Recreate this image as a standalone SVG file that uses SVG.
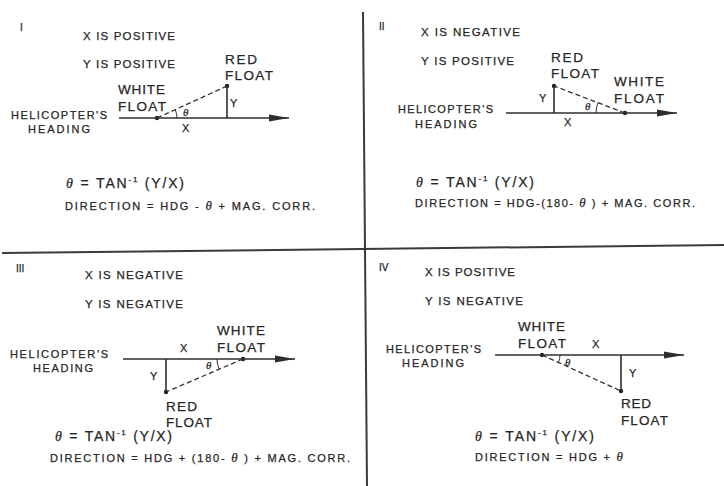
<svg xmlns="http://www.w3.org/2000/svg" width="724" height="486" viewBox="0 0 724 486">
<style>
.t{font-family:"Liberation Sans",Arial,Helvetica,sans-serif;fill:#262626;stroke:#262626;stroke-width:0.25}
.num{font-size:10px}
.lbl{font-size:11.5px}
.fl{font-size:13.5px}
.hd{font-size:11px}
.xy{font-size:11px}
.f{font-size:14px}
.d{font-size:11px}
.th{font-style:italic;font-family:"Liberation Serif","Times New Roman",serif}
.thb{font-size:13px}
.ln{stroke:#2e2e2e;stroke-width:1.6;fill:none}
.hl{stroke:#2e2e2e;stroke-width:1.6;fill:none;marker-end:url(#ah)}
.ds{stroke:#333;stroke-width:1.3;stroke-dasharray:5 3;fill:none}
.arc{stroke:#333;stroke-width:1;fill:none}
.dot{fill:#1e1e1e}
.div{stroke:#3a3a3a;stroke-width:2;fill:none}
</style>
<defs>
<marker id="ah" markerUnits="userSpaceOnUse" markerWidth="22" markerHeight="8" refX="20" refY="4" orient="auto">
<path d="M0,0.6 L20,4 L0,7.4 z" fill="#2e2e2e"/>
</marker>
</defs>
<rect width="724" height="486" fill="#ffffff"/>

<g id="dividers">
<path class="div" d="M363,12 L367,486"/>
<path class="div" d="M2,253 L724,245"/>
</g>

<g id="quadrant-I">
<text class="t num" x="20" y="31">I</text>
<text class="t lbl" x="83" y="40" textLength="92" lengthAdjust="spacing">X IS POSITIVE</text>
<text class="t lbl" x="83" y="68" textLength="92" lengthAdjust="spacing">Y IS POSITIVE</text>
<text class="t hd" x="11" y="119" textLength="96" lengthAdjust="spacing">HELICOPTER'S</text>
<text class="t hd" x="28" y="133" textLength="62" lengthAdjust="spacing">HEADING</text>
<g id="q1-white-float"><circle class="dot" cx="157" cy="118" r="2.2"/><text class="t fl" x="118" y="94" textLength="47" lengthAdjust="spacing">WHITE</text><text class="t fl" x="118" y="111" textLength="48" lengthAdjust="spacing">FLOAT</text></g>
<g id="q1-red-float"><circle class="dot" cx="227" cy="86" r="2.2"/><text class="t fl" x="225" y="64" textLength="32" lengthAdjust="spacing">RED</text><text class="t fl" x="225" y="80" textLength="48" lengthAdjust="spacing">FLOAT</text></g>
<text class="t xy" x="230" y="107">Y</text>
<text class="t xy" x="182" y="132">X</text>
<text class="t xy th" x="183" y="116">θ</text>
<text class="t f" x="66" y="188" textLength="118" lengthAdjust="spacing"><tspan class="th">θ</tspan> = TAN<tspan font-size="8" dy="-6">-1</tspan><tspan dy="6"> (Y/X)</tspan></text>
<text class="t d" x="65" y="210" textLength="250" lengthAdjust="spacing">DIRECTION = HDG - <tspan class="th thb">θ</tspan> +  MAG. CORR.</text>
</g>

<g id="quadrant-II">
<text class="t num" x="379" y="30">II</text>
<text class="t lbl" x="421" y="36" textLength="99" lengthAdjust="spacing">X IS NEGATIVE</text>
<text class="t lbl" x="421" y="65" textLength="93" lengthAdjust="spacing">Y IS POSITIVE</text>
<text class="t hd" x="398" y="113" textLength="95" lengthAdjust="spacing">HELICOPTER'S</text>
<text class="t hd" x="415" y="128" textLength="62" lengthAdjust="spacing">HEADING</text>
<g id="q2-red-float"><circle class="dot" cx="554" cy="86" r="2.2"/><text class="t fl" x="551" y="62" textLength="32" lengthAdjust="spacing">RED</text><text class="t fl" x="551" y="78" textLength="48" lengthAdjust="spacing">FLOAT</text></g>
<g id="q2-white-float"><circle class="dot" cx="625" cy="113" r="2.2"/><text class="t fl" x="614" y="86" textLength="50" lengthAdjust="spacing">WHITE</text><text class="t fl" x="614" y="103" textLength="50" lengthAdjust="spacing">FLOAT</text></g>
<text class="t xy" x="539" y="102">Y</text>
<text class="t xy" x="564" y="126">X</text>
<text class="t xy th" x="585" y="110">θ</text>
<text class="t f" x="416" y="187" textLength="118" lengthAdjust="spacing"><tspan class="th">θ</tspan> = TAN<tspan font-size="8" dy="-6">-1</tspan><tspan dy="6"> (Y/X)</tspan></text>
<text class="t d" x="415" y="207" textLength="280" lengthAdjust="spacing">DIRECTION = HDG-(180- <tspan class="th thb">θ</tspan> ) + MAG. CORR.</text>
</g>

<g id="quadrant-III">
<text class="t num" x="16" y="272">III</text>
<text class="t lbl" x="85" y="279" textLength="98" lengthAdjust="spacing">X IS NEGATIVE</text>
<text class="t lbl" x="85" y="308" textLength="98" lengthAdjust="spacing">Y IS NEGATIVE</text>
<text class="t hd" x="10" y="358" textLength="98" lengthAdjust="spacing">HELICOPTER'S</text>
<text class="t hd" x="33" y="372" textLength="60" lengthAdjust="spacing">HEADING</text>
<g id="q3-white-float"><circle class="dot" cx="243" cy="359" r="2.2"/><text class="t fl" x="217" y="335" textLength="48" lengthAdjust="spacing">WHITE</text><text class="t fl" x="217" y="352" textLength="48" lengthAdjust="spacing">FLOAT</text></g>
<g id="q3-red-float"><circle class="dot" cx="166" cy="392" r="2.2"/><text class="t fl" x="166" y="411" textLength="31" lengthAdjust="spacing">RED</text><text class="t fl" x="166" y="427" textLength="46" lengthAdjust="spacing">FLOAT</text></g>
<text class="t xy" x="180" y="352">X</text>
<text class="t xy" x="150" y="380">Y</text>
<text class="t xy th" x="206" y="369">θ</text>
<text class="t f" x="55" y="441" textLength="117" lengthAdjust="spacing"><tspan class="th">θ</tspan> = TAN<tspan font-size="8" dy="-6">-1</tspan><tspan dy="6"> (Y/X)</tspan></text>
<text class="t d" x="50" y="462" textLength="300" lengthAdjust="spacing">DIRECTION = HDG + (180- <tspan class="th thb">θ</tspan> ) + MAG. CORR.</text>
</g>

<g id="quadrant-IV">
<text class="t num" x="379" y="271">IV</text>
<text class="t lbl" x="425" y="276" textLength="90" lengthAdjust="spacing">X IS POSITIVE</text>
<text class="t lbl" x="425" y="305" textLength="98" lengthAdjust="spacing">Y IS NEGATIVE</text>
<text class="t hd" x="386" y="353" textLength="95" lengthAdjust="spacing">HELICOPTER'S</text>
<text class="t hd" x="402" y="367" textLength="62" lengthAdjust="spacing">HEADING</text>
<g id="q4-white-float"><circle class="dot" cx="542" cy="355" r="2.2"/><text class="t fl" x="518" y="331" textLength="47" lengthAdjust="spacing">WHITE</text><text class="t fl" x="518" y="348" textLength="48" lengthAdjust="spacing">FLOAT</text></g>
<g id="q4-red-float"><circle class="dot" cx="621" cy="391" r="2.2"/><text class="t fl" x="621" y="408" textLength="30" lengthAdjust="spacing">RED</text><text class="t fl" x="621" y="425" textLength="47" lengthAdjust="spacing">FLOAT</text></g>
<text class="t xy" x="592" y="348">X</text>
<text class="t xy" x="629" y="377">Y</text>
<text class="t xy th" x="565" y="366">θ</text>
<text class="t f" x="475" y="441" textLength="119" lengthAdjust="spacing"><tspan class="th">θ</tspan> = TAN<tspan font-size="8" dy="-6">-1</tspan><tspan dy="6"> (Y/X)</tspan></text>
<text class="t d" x="475" y="461" textLength="148" lengthAdjust="spacing">DIRECTION = HDG + <tspan class="th thb">θ</tspan></text>
</g>

<g id="connectors">
<line class="hl" x1="119" y1="118" x2="289" y2="118"/>
<line class="ln" x1="227" y1="86" x2="227" y2="118"/>
<line class="ds" x1="157" y1="118" x2="227" y2="86"/>
<path class="arc" d="M177,118 A20,20 0 0 0 175.2,109.7"/>

<line class="hl" x1="506" y1="113" x2="677" y2="113"/>
<line class="ln" x1="554" y1="86" x2="554" y2="113"/>
<line class="ds" x1="625" y1="113" x2="554" y2="86"/>
<path class="arc" d="M596,113 A29,29 0 0 1 597.9,102.7"/>

<line class="hl" x1="123" y1="359" x2="295" y2="359"/>
<line class="ln" x1="166" y1="359" x2="166" y2="392"/>
<line class="ds" x1="243" y1="359" x2="166" y2="392"/>
<path class="arc" d="M217,359 A26,26 0 0 0 219.1,369.2"/>

<line class="hl" x1="495" y1="355" x2="684" y2="355"/>
<line class="ln" x1="621" y1="355" x2="621" y2="391"/>
<line class="ds" x1="542" y1="355" x2="621" y2="391"/>
<path class="arc" d="M560,355 A18,18 0 0 1 558.4,362.5"/>
</g>
</svg>
